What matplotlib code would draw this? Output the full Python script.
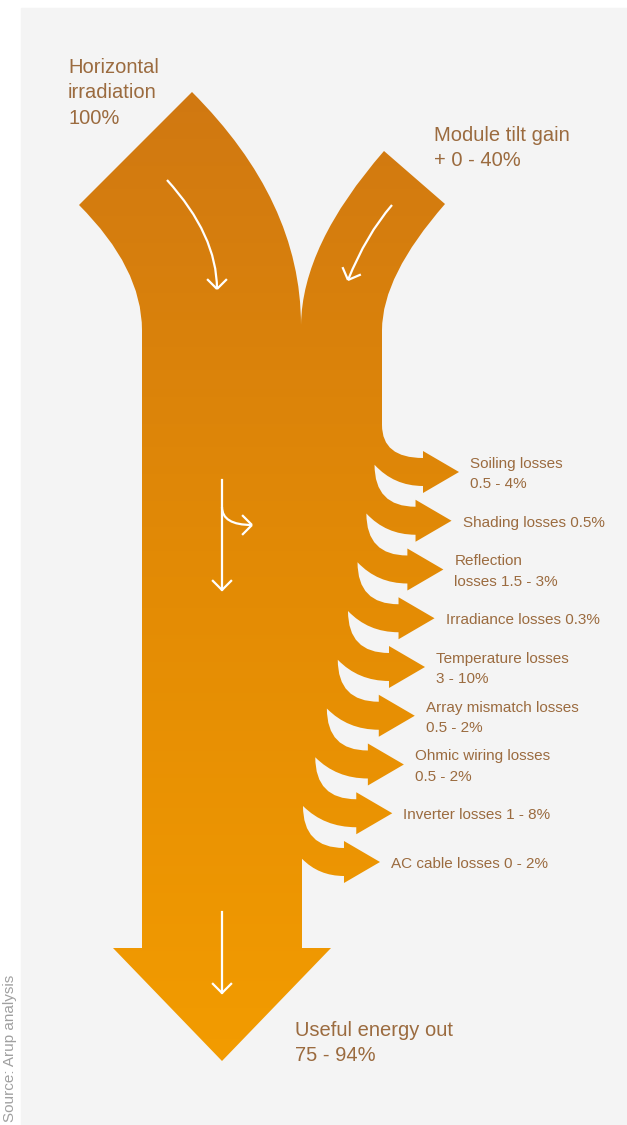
import numpy as np
import matplotlib
matplotlib.use("Agg")
import matplotlib.pyplot as plt
from matplotlib.path import Path
from matplotlib.patches import PathPatch, Rectangle
from matplotlib.colors import LinearSegmentedColormap

plt.rcParams['font.family'] = ['Liberation Sans', 'DejaVu Sans']

# labels for the energy flow
source_label = ["Horizontal", "irradiation", "100%"]
gain_label = ["Module tilt gain", "+ 0 - 40%"]
loss_labels = ["Soiling losses\n0.5 - 4%",
               "Shading losses 0.5%",
               "Reflection\nlosses 1.5 - 3%",
               "Irradiance losses 0.3%",
               "Temperature losses\n3 - 10%",
               "Array mismatch losses\n0.5 - 2%",
               "Ohmic wiring losses\n0.5 - 2%",
               "Inverter losses 1 - 8%",
               "AC cable losses 0 - 2%"]
output_label = ["Useful energy out", "75 - 94%"]
source_note = "Source: Arup analysis"

text_col = '#9b6b3f'

fig = plt.figure(figsize=(6.27, 11.25), dpi=100)
ax = fig.add_axes([0, 0, 1, 1])
ax.set_xlim(0, 627)
ax.set_ylim(1125, 0)
ax.axis('off')

ax.add_patch(Rectangle((21, 8), 606, 1117, color='#f4f4f4', zorder=0))

# trunk geometry (pixel units)
trunk_l, trunk_r = 142, 302
gain_r = 382
n = len(loss_labels)
k = np.arange(n)
yc = 472 + 48.75 * k                      # arrow centre lines
tip = 459 - 7.125 * k - 0.344 * k**2      # arrow tips drift left on a gentle curve
head_len = 36
bx = tip - head_len                       # arrow head base
ax_pts = np.append(tip - 77, trunk_r)     # where each band leaves the trunk
ay_pts = np.append(yc - 56, 472 + 48.75 * n - 52)
ay_pts[0] = yc[0] - 47                    # first band leaves the straight edge
body, head = 14, 21

verts, codes = [], []
def move(p):
    verts.append(p); codes.append(Path.MOVETO)
def line(p):
    verts.append(p); codes.append(Path.LINETO)
def quad(c, p):
    verts.extend([c, p]); codes.extend([Path.CURVE3, Path.CURVE3])

# horizontal irradiation branch + tilt branch
move((79, 205))
line((192, 92))
quad((301, 201), (301, 325))
quad((302, 245), (384, 151))
line((445, 204))
quad((gain_r, 276), (gain_r, 330))
line((ax_pts[0], ay_pts[0]))

# loss arrows peeling off the right side
for i in range(n):
    quad((ax_pts[i], yc[i] - body), (bx[i], yc[i] - body))
    line((bx[i], yc[i] - head))
    line((tip[i], yc[i]))
    line((bx[i], yc[i] + head))
    line((bx[i], yc[i] + body))
    nx, ny = ax_pts[i + 1], ay_pts[i + 1]
    quad((nx + 0.4 * (bx[i] - nx), yc[i] + body), (nx, ny))

# output arrow
line((trunk_r, 948))
line((331, 948))
line((222, 1061))
line((113, 948))
line((trunk_l, 948))
line((trunk_l, 330))
quad((trunk_l, 268), (79, 205))
verts.append((79, 205)); codes.append(Path.CLOSEPOLY)

flow = PathPatch(Path(verts, codes), fc='none', ec='none')
ax.add_patch(flow)

cmap = LinearSegmentedColormap.from_list('flow', ['#d07812', '#e38b05', '#f39c00'])
grad = np.linspace(0, 1, 256).reshape(-1, 1)
im = ax.imshow(grad, extent=(60, 470, 1070, 85), aspect='auto', cmap=cmap,
               origin='upper', zorder=1)
im.set_clip_path(flow)

# white direction arrows
def curve(p0, c, p1):
    pp = PathPatch(Path([p0, c, p1], [Path.MOVETO, Path.CURVE3, Path.CURVE3]),
                   fc='none', ec='white', lw=1.6, zorder=3)
    ax.add_patch(pp)

def arrow_head(tip_pt, d, L=14):
    d = np.array(d, float)
    d /= np.hypot(*d)
    for ang in (np.pi / 4, -np.pi / 4):
        r = np.array([[np.cos(ang), -np.sin(ang)], [np.sin(ang), np.cos(ang)]])
        back = np.array(tip_pt) - L * (r @ d)
        ax.plot([back[0], tip_pt[0]], [back[1], tip_pt[1]], color='white', lw=1.6,
                solid_capstyle='butt', zorder=3)

curve((167, 180), (217, 235), (217, 289))
arrow_head((217, 289), (0, 1))
curve((392, 205), (366, 235), (348, 280))
arrow_head((348, 280), (-0.4, 1))
ax.plot([222, 222], [480, 590], color='white', lw=1.6, zorder=3)
arrow_head((222, 590), (0, 1))
curve((222, 507), (222, 525), (252, 525))
arrow_head((252, 525), (1, 0))
ax.plot([222, 222], [912, 993], color='white', lw=1.6, zorder=3)
arrow_head((222, 993), (0, 1))

# labels
ax.text(68, 93, "\n".join(source_label), fontsize=14.5, color=text_col,
        ha='left', va='center', linespacing=1.45)
ax.text(434, 148, "\n".join(gain_label), fontsize=14.5, color=text_col,
        ha='left', va='center', linespacing=1.45)
for i, lab in enumerate(loss_labels):
    ax.text(tip[i] + 11, yc[i] + 2, lab, fontsize=11, color=text_col,
            ha='left', va='center', linespacing=1.55)
ax.text(295, 1043, "\n".join(output_label), fontsize=14.5, color=text_col,
        ha='left', va='center', linespacing=1.45)
ax.text(14, 1122, source_note, fontsize=11, color='#a0a0a0', rotation=90,
        rotation_mode='anchor', ha='left', va='baseline')

fig.savefig('out.png', dpi=100)
